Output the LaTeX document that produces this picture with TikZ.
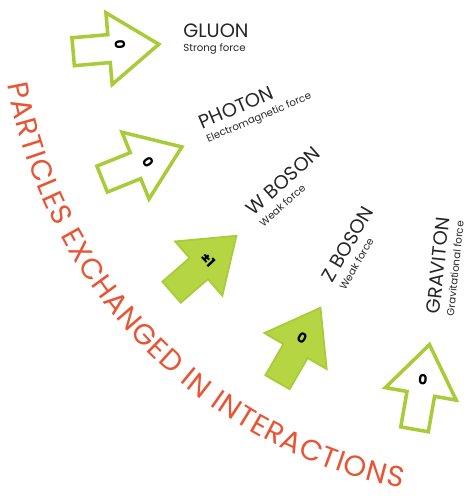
\documentclass[tikz,border=0pt]{standalone}
\usepackage{fontspec}
\setmainfont{Poppins}
\usepackage{tikz}
\usetikzlibrary{decorations.text}

\definecolor{lime}{RGB}{168,203,56}
\definecolor{limefill}{RGB}{182,213,66}
\definecolor{tagred}{RGB}{232,84,52}
\newcommand{\namefont}{\fontsize{11pt}{8.2pt}\selectfont}
\newcommand{\forcefont}{\fontsize{5.8pt}{6pt}\selectfont}
\newcommand{\chargefont}{\fontsize{8pt}{8pt}\selectfont\bfseries}
\newcommand{\bannerfont}{\fontsize{16.5pt}{17pt}\selectfont}

\begin{document}
\begin{tikzpicture}[
    x=0.02cm, y=0.02cm,
    outlinearrow/.style={draw=lime, fill=white, line width=2pt},
    filledarrow/.style={draw=lime, fill=limefill, line width=1pt},
    particle/.style={anchor=west, align=left, inner sep=0pt,
                     font=\namefont, text=black!85},
    charge/.style={font=\chargefont, inner sep=0pt},
    forcearrow/.pic={
      \draw[pic actions] (-43,-14) -- (-7,-14) -- (-7,-36) -- (43,0)
        -- (-7,36) -- (-7,14) -- (-43,14) -- cycle;},
  ]
  \useasboundingbox (0,0) rectangle (468,499);

  % ── Gluon (top, pointing right) ──
  \pic[outlinearrow, rotate=5] (gluonarrow) at (116,451) {forcearrow};
  \node[charge, rotate=-85] (gluonq) at (120,454) {0};
  \node[particle] (gluon) at (183,460) {GLUON\\{\forcefont Strong force}};

  % ── Photon ──
  \pic[outlinearrow, rotate=22] (photonarrow) at (142,336) {forcearrow};
  \node[charge, rotate=-55] (photonq) at (148,337) {0};
  \node[particle, rotate=23] (photon) at (203,368)
    {PHOTON\\{\forcefont Electromagnetic force}};

  % ── W boson (filled) ──
  \pic[filledarrow, rotate=41] (warrow) at (204,235) {forcearrow};
  \node[charge, rotate=-47] (wq) at (208,239) {±1};
  \node[particle, rotate=42] (wboson) at (254,282)
    {W BOSON\\{\forcefont Weak force}};

  % ── Z boson (filled) ──
  \pic[filledarrow, rotate=60] (zarrow) at (299,154) {forcearrow};
  \node[charge, rotate=-28] (zq) at (302,161) {0};
  \node[particle, rotate=60] (zboson) at (333,215)
    {Z BOSON\\{\forcefont Weak force}};

  % ── Graviton (pointing up) ──
  \pic[outlinearrow, rotate=80] (gravarrow) at (422,112) {forcearrow};
  \node[charge, rotate=-5] (gravq) at (423,119) {0};
  \node[particle, rotate=84] (graviton) at (440,184)
    {GRAVITON\\{\forcefont Gravitational force}};

  % ── Curved banner along the outer arc ──
  \coordinate (rim) at (501,501.5);
  \path[decorate, decoration={text along path, text align=fit to path,
      text={|\bannerfont\color{tagred}|PARTICLES EXCHANGED IN INTERACTIONS}}]
    ([shift={(190:501)}]rim) arc[start angle=190, end angle=258.5,
      radius=501];

\end{tikzpicture}
\end{document}
